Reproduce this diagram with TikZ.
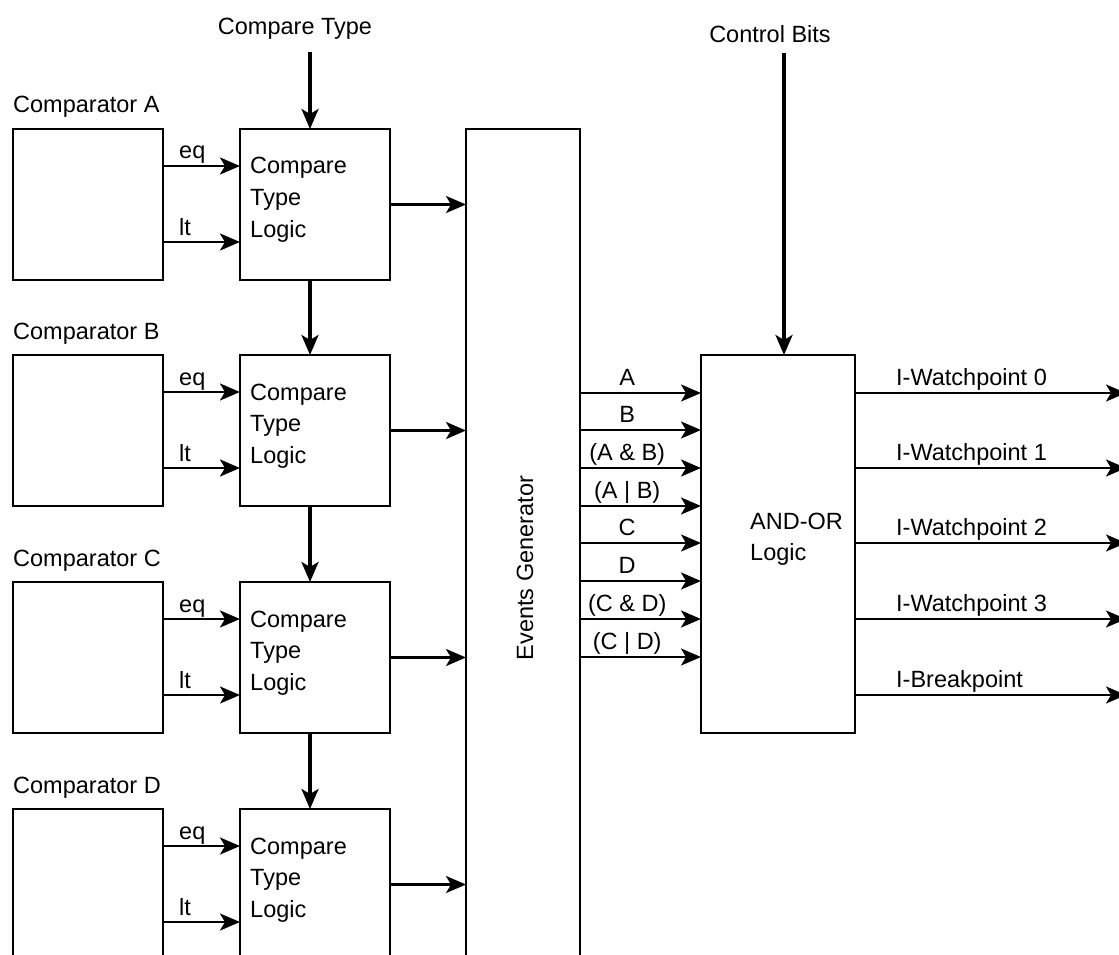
\documentclass[tikz,border=0pt]{standalone}
\usepackage{fontspec}
\setmainfont{Liberation Sans}
\usetikzlibrary{arrows.meta}
\newcommand\mlines[1]{\begin{tabular}[t]{@{}l@{}}#1\end{tabular}}
\begin{document}
\begin{tikzpicture}[x=1pt,y=-1pt,
  font=\fontsize{23.5}{31.5}\selectfont,
  box/.style={draw,line width=2.4pt,rectangle,inner sep=0pt,outer sep=0pt,anchor=north west},
  cmpbox/.style={box,minimum width=150pt,minimum height=151pt},
  lbl/.style={inner sep=0pt,anchor=base west},
  lblc/.style={inner sep=0pt,anchor=base},
  arr/.style={line width=2.4pt,-{Stealth[length=20pt,width=17pt,inset=5pt]}},
  varr/.style={line width=3.2pt,-{Stealth[length=20pt,width=17pt,inset=5pt]}},
]
\useasboundingbox (0,0) rectangle (1119,955);
\clip (0,0) rectangle (1119,955);

% comparator boxes and compare-type-logic boxes
\foreach \n/\t in {A/129,B/355,C/582,D/809}{
  \node[cmpbox] (cmp\n) at (13,\t) {};
  \node[cmpbox] (ctl\n) at (240,\t) {};
  \node[lbl] (cmpl\n) at (13,\t-16) {Comparator \n};
  \node[lbl] (ctlt\n) at (250,\t+45) {\mlines{Compare\\Type\\Logic}};
  \draw[arr] ([yshift=-37pt]cmp\n.north east) -- node[lbl,pos=0,xshift=15pt,yshift=7pt] (eq\n) {eq} ([yshift=-37pt]ctl\n.north west);
  \draw[arr] ([yshift=-113pt]cmp\n.north east) -- node[lbl,pos=0,xshift=15pt,yshift=7pt] (lt\n) {lt} ([yshift=-113pt]ctl\n.north west);
}

% events generator
\node[box,minimum width=114pt,minimum height=900pt] (evg) at (466,129) {};
\node[inner sep=0pt,rotate=90] (evgt) at (525,568) {Events Generator};

\foreach \n in {A,B,C,D}{
  \draw[arr] (ctl\n.east) -- (evg.west |- ctl\n.east);
}
\draw[varr] ([xshift=-5pt]ctlA.south) -- ([xshift=-5pt]ctlB.north);
\draw[varr] ([xshift=-5pt]ctlB.south) -- ([xshift=-5pt]ctlC.north);
\draw[varr] ([xshift=-5pt]ctlC.south) -- ([xshift=-5pt]ctlD.north);

% compare type input
\node[lblc] (ctin) at (295,35) {Compare Type};
\coordinate (ctsrc) at (310,52);
\draw[varr] (ctsrc) -- (ctsrc |- ctlA.north);

% AND-OR logic
\node[box,minimum width=154pt,minimum height=378pt] (andor) at (701,355) {};
\node[lbl] (andort) at (750,529) {\mlines{AND-OR\\Logic}};

\node[lblc] (cbin) at (770,43) {Control Bits};
\coordinate (cbsrc) at (784,53);
\draw[varr] (cbsrc) -- (cbsrc |- andor.north);

% event signals
\foreach \y/\s in {393/A,430/B,468/(A \& B),506/(A | B),543/C,581/D,619/(C \& D),657/(C | D)}{
  \coordinate (sig) at (701,\y);
  \draw[arr] (evg.east |- sig) -- node[lblc,pos=0.39,yshift=8pt] {\s} (sig);
}

% outputs
\foreach \y/\s in {393/I-Watchpoint 0,468/I-Watchpoint 1,543/I-Watchpoint 2,619/I-Watchpoint 3,695/I-Breakpoint}{
  \coordinate (out) at (1126,\y);
  \draw[arr] (andor.east |- out) -- node[lbl,pos=0,xshift=40pt,yshift=8pt] {\s} (out);
}
\end{tikzpicture}
\end{document}
